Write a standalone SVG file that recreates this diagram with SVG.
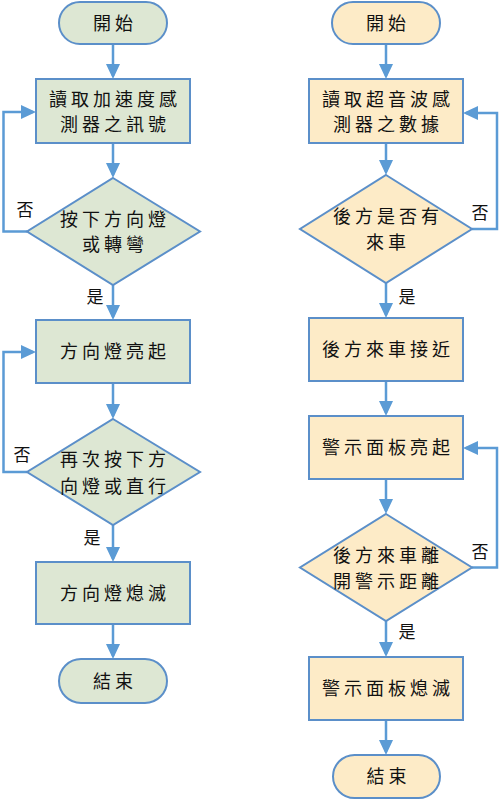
<svg xmlns="http://www.w3.org/2000/svg" width="504" height="800" viewBox="0 0 504 800">
<style>
.g{fill:#DDE7D3;stroke:#5B8FC9;stroke-width:2}
.y{fill:#FDEBC7;stroke:#5B8FC9;stroke-width:2}
.t{font-family:"Noto Sans CJK TC","Noto Sans CJK SC",sans-serif;font-size:18px;letter-spacing:4px;text-anchor:middle;fill:#111}
.l{font-family:"Noto Sans CJK TC","Noto Sans CJK SC",sans-serif;font-size:17px;text-anchor:middle;fill:#111}
.c{fill:none;stroke:#5B9BD5;stroke-width:2.5;marker-end:url(#ah)}
</style>
<defs>
<marker id="ah" markerUnits="userSpaceOnUse" markerWidth="15" markerHeight="14" refX="12" refY="7" orient="auto">
<path d="M0,0 L15,7 L0,14 z" fill="#5B9BD5"/>
</marker>
</defs>
<rect width="504" height="800" fill="#fff"/>
<g id="connectors">
<path class="c" d="M113,44 V76"/>
<path class="c" d="M113,143 V175"/>
<path class="c" d="M27,231.5 H3.5 V112 H33"/>
<path class="c" d="M113,285 V317"/>
<path class="c" d="M113,383 V416"/>
<path class="c" d="M27,472 H3.5 V352 H33"/>
<path class="c" d="M113,525 V559"/>
<path class="c" d="M113,624 V656"/>
<path class="c" d="M386,44 V76"/>
<path class="c" d="M386,143 V172"/>
<path class="c" d="M472,229 H497 V113 H466"/>
<path class="c" d="M386,283 V315"/>
<path class="c" d="M386,381 V413"/>
<path class="c" d="M386,479 V511"/>
<path class="c" d="M472,567.5 H497 V448 H466"/>
<path class="c" d="M386,621 V654"/>
<path class="c" d="M386,720 V752"/>
<text class="l" x="25" y="216">否</text>
<text class="l" x="95" y="303">是</text>
<text class="l" x="22" y="461">否</text>
<text class="l" x="92" y="544">是</text>
<text class="l" x="480" y="219">否</text>
<text class="l" x="407" y="303">是</text>
<text class="l" x="480" y="558">否</text>
<text class="l" x="407" y="638">是</text>
</g>
<g id="L_start"><rect class="g" x="59" y="2" width="108" height="42" rx="21"/><text class="t" x="115" y="29.5">開始</text></g>
<g id="L_read"><rect class="g" x="36" y="79" width="154" height="64"/><text class="t" x="115" y="105.5">讀取加速度感</text><text class="t" x="115" y="130.5">測器之訊號</text></g>
<g id="L_dec1"><polygon class="g" points="113,178 200,231.5 113,285 27,231.5"/><text class="t" x="115" y="226">按下方向燈</text><text class="t" x="115" y="251">或轉彎</text></g>
<g id="L_on"><rect class="g" x="36" y="320" width="154" height="63"/><text class="t" x="115" y="358">方向燈亮起</text></g>
<g id="L_dec2"><polygon class="g" points="113,419 200,472 113,525 27,472"/><text class="t" x="115" y="466">再次按下方</text><text class="t" x="115" y="493">向燈或直行</text></g>
<g id="L_off"><rect class="g" x="36" y="562" width="154" height="62"/><text class="t" x="115" y="599.5">方向燈熄滅</text></g>
<g id="L_end"><rect class="g" x="59" y="659" width="108" height="44" rx="22"/><text class="t" x="115" y="687.5">結束</text></g>
<g id="R_start"><rect class="y" x="332" y="2" width="108" height="42" rx="21"/><text class="t" x="388" y="29.5">開始</text></g>
<g id="R_read"><rect class="y" x="309" y="79" width="154" height="64"/><text class="t" x="388" y="105.5">讀取超音波感</text><text class="t" x="388" y="130.5">測器之數據</text></g>
<g id="R_dec1"><polygon class="y" points="386,175 472,229 386,283 300,229"/><text class="t" x="388" y="223">後方是否有</text><text class="t" x="388" y="249">來車</text></g>
<g id="R_near"><rect class="y" x="309" y="318" width="154" height="63"/><text class="t" x="388" y="356">後方來車接近</text></g>
<g id="R_on"><rect class="y" x="309" y="416" width="154" height="63"/><text class="t" x="388" y="454">警示面板亮起</text></g>
<g id="R_dec2"><polygon class="y" points="386,514 472,567.5 386,621 300,567.5"/><text class="t" x="388" y="561.5">後方來車離</text><text class="t" x="388" y="588">開警示距離</text></g>
<g id="R_off"><rect class="y" x="309" y="657" width="154" height="63"/><text class="t" x="388" y="695">警示面板熄滅</text></g>
<g id="R_end"><rect class="y" x="333" y="755" width="107" height="43" rx="21.5"/><text class="t" x="388.5" y="783">結束</text></g>
</svg>
